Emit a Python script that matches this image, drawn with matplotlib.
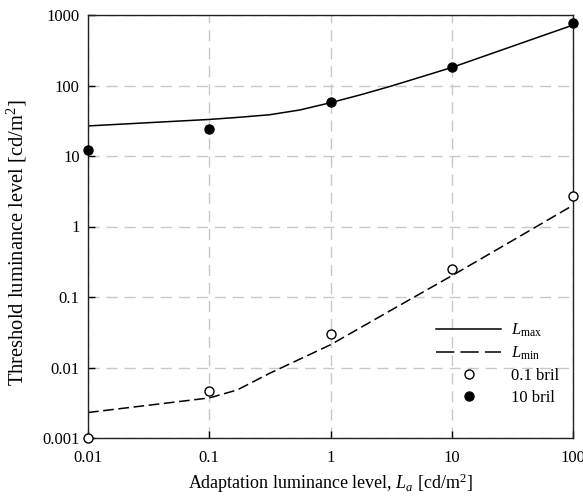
import numpy as np
import matplotlib
matplotlib.use("Agg")
import matplotlib.pyplot as plt
from matplotlib.lines import Line2D

# Serif look (Times-like)
plt.rcParams['font.family'] = ['Liberation Serif', 'DejaVu Serif']
plt.rcParams['mathtext.fontset'] = 'custom'
plt.rcParams['mathtext.rm'] = 'Liberation Serif'
plt.rcParams['mathtext.it'] = 'Liberation Serif:italic'

# Measured points
la = [0.01, 0.1, 1, 10, 100]
bril_10 = [12, 24, 58, 182, 770]
bril_01 = [0.001, 0.0047, 0.030, 0.25, 2.7]

# Model curves
x_max = [0.01, 0.1, 0.18, 0.316, 0.56, 1, 1.78, 3.16, 10, 31.6, 100]
l_max = [26.7, 33, 35.5, 38.5, 45, 57, 74, 98, 180, 360, 720]
x_min = [0.01, 0.1, 0.17, 0.316, 1, 3.16, 10, 31.6, 100]
l_min = [0.0023, 0.0037, 0.0048, 0.0083, 0.021, 0.065, 0.20, 0.63, 2.0]

xticks = [0.01, 0.1, 1, 10, 100]
xticklabels = ['0.01', '0.1', '1', '10', '100']
yticks = [0.001, 0.01, 0.1, 1, 10, 100, 1000]
yticklabels = ['0.001', '0.01', '0.1', '1', '10', '100', '1000']

fig = plt.figure(figsize=(5.83, 4.97), dpi=100)
ax = fig.add_axes([88/583, 1-438/497, (573-88)/583, (438-15)/497])

ax.plot(x_max, l_max, color='black', lw=1.1)
ax.plot(x_min, l_min, color='black', lw=1.1, dashes=(7, 3))
ax.plot(la, bril_01, 'o', ms=6.5, mfc='white', mec='black', mew=1.0, clip_on=False, zorder=5)
ax.plot(la, bril_10, 'o', ms=6.5, mfc='black', mec='black', clip_on=False, zorder=5)

ax.set_xscale('log')
ax.set_yscale('log')
ax.set_xlim(0.01, 100)
ax.set_ylim(0.001, 1000)
ax.set_xticks(xticks)
ax.set_xticklabels(xticklabels)
ax.set_yticks(yticks)
ax.set_yticklabels(yticklabels)
ax.minorticks_off()
ax.tick_params(direction='in', length=5, width=1, labelsize=12, top=False, right=False)
ax.tick_params(axis='x', pad=9)
ax.tick_params(axis='y', pad=6)

ax.grid(True, color='#c8c8c8', linestyle=(0, (8, 5)), lw=1)
for s in ax.spines.values():
    s.set_linewidth(1)
    s.set_color('#222222')

ax.set_xlabel(r'Adaptation luminance level, $L_a$ [cd/m$^2$]', fontsize=13, labelpad=4)
ax.set_ylabel(r'Threshold luminance level [cd/m$^2$]', fontsize=14.8)
ax.yaxis.set_label_coords(-0.121, 0.463)

handles = [
    Line2D([], [], color='black', lw=1.1),
    Line2D([], [], color='black', lw=1.1, dashes=(12, 4)),
    Line2D([], [], ls='none', marker='o', ms=6.5, mfc='white', mec='black'),
    Line2D([], [], ls='none', marker='o', ms=6.5, mfc='black', mec='black'),
]
labels = [r'$L_{\mathrm{max}}$', r'$L_{\mathrm{min}}$', '0.1 bril', '10 bril']
ax.legend(handles, labels, loc='upper left', bbox_to_anchor=(428/583, 1-313/497),
          bbox_transform=fig.transFigure, frameon=False, fontsize=12,
          handlelength=3.9, handletextpad=0.6, labelspacing=0.35, borderpad=0)

fig.savefig('out.png', dpi=100)
